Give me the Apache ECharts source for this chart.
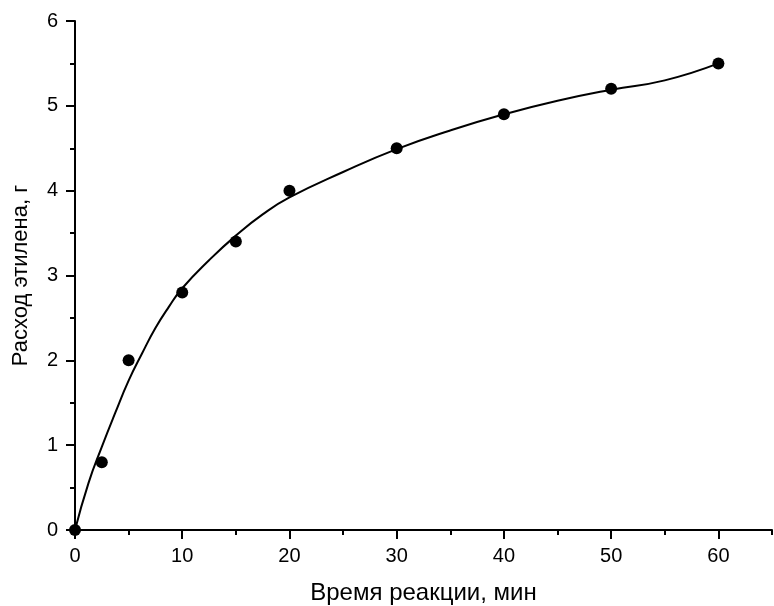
<!DOCTYPE html>
<html>
<head>
<meta charset="utf-8">
<script src="https://cdn.jsdelivr.net/npm/echarts@6/dist/echarts.min.js"></script>
<style>
  html, body { margin: 0; padding: 0; background: #fff; }
  #chart { width: 774px; height: 606px; }
</style>
</head>
<body>
<div id="chart"></div>
<script>
// measured points
const timeMin = [0, 2.5, 5, 10, 15, 20, 30, 40, 50, 60];
const ethylene = [0, 0.8, 2.0, 2.8, 3.4, 4.0, 4.5, 4.9, 5.2, 5.5];

// fitted curve
const curveX = [0, 1.25, 2.5, 3.75, 5, 6.25, 7.5, 8.75, 10, 12.5, 15, 17.5, 20, 25, 30, 35, 40, 45, 50, 55, 60];
const curveY = [0, 0.55, 0.98, 1.38, 1.76, 2.08, 2.38, 2.63, 2.85, 3.18, 3.47, 3.72, 3.92, 4.22, 4.49, 4.71, 4.9, 5.06, 5.19, 5.3, 5.5];

const xMajor = [0, 10, 20, 30, 40, 50, 60];
const xMinor = [5, 15, 25, 35, 45, 55, 65];

const font = "Liberation Sans, Arial, sans-serif";

const myChart = echarts.init(document.getElementById("chart"));

const option = {
  animation: false,
  backgroundColor: "#fff",
  grid: { left: 75, right: 2, top: 21, bottom: 76, outerBoundsMode: "none", containLabel: false },
  xAxis: [
    {
      type: "value",
      min: 0,
      max: 65,
      interval: 5,
      name: "Время реакции, мин",
      nameLocation: "middle",
      nameGap: 51,
      nameTextStyle: { fontFamily: font, fontSize: 24, color: "#000" },
      axisLine: { lineStyle: { color: "#000", width: 2 } },
      axisTick: { customValues: xMajor, length: 9, lineStyle: { color: "#000", width: 2 } },
      axisLabel: {
        customValues: xMajor,
        margin: 16,
        fontFamily: font,
        fontSize: 20,
        color: "#000",
      },
      splitLine: { show: false },
    },
    {
      type: "value",
      min: 0,
      max: 65,
      interval: 5,
      position: "bottom",
      axisLine: { show: false },
      axisTick: { customValues: xMinor, length: 5, lineStyle: { color: "#000", width: 2 } },
      axisLabel: { show: false },
      splitLine: { show: false },
    },
  ],
  yAxis: {
    type: "value",
    min: 0,
    max: 6,
    interval: 1,
    name: "Расход этилена, г",
    nameLocation: "middle",
    nameGap: 43,
    nameTextStyle: { fontFamily: font, fontSize: 22, color: "#000" },
    axisLine: { show: true, lineStyle: { color: "#000", width: 2 } },
    axisTick: { show: true, length: 9, lineStyle: { color: "#000", width: 2 } },
    minorTick: { show: true, splitNumber: 2, length: 5, lineStyle: { color: "#000", width: 2 } },
    axisLabel: { margin: 17, fontFamily: font, fontSize: 20, color: "#000" },
    splitLine: { show: false },
    minorSplitLine: { show: false },
  },
  series: [
    {
      name: "fit",
      type: "line",
      xAxisIndex: 0,
      data: curveX.map((x, i) => [x, curveY[i]]),
      smooth: 0.5,
      showSymbol: false,
      lineStyle: { color: "#000", width: 2 },
      z: 2,
    },
    {
      name: "data",
      type: "scatter",
      xAxisIndex: 0,
      data: timeMin.map((x, i) => [x, ethylene[i]]),
      symbol: "circle",
      symbolSize: 12,
      itemStyle: { color: "#000", opacity: 1 },
      z: 3,
    },
  ],
};

myChart.setOption(option);
</script>
</body>
</html>
